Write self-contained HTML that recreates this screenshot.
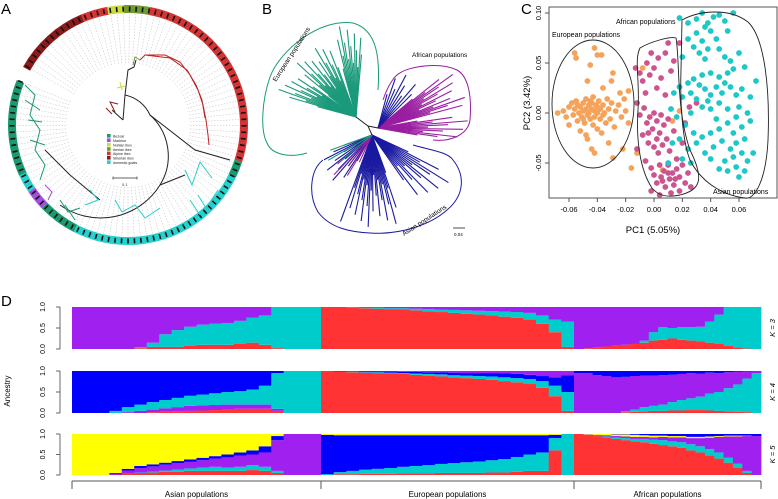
<!DOCTYPE html>
<html><head><meta charset="utf-8"><style>
body{margin:0;background:#fff;font-family:"Liberation Sans",sans-serif}
svg{display:block}
text{font-family:"Liberation Sans",sans-serif}
</style></head><body>
<svg id="fig" width="778" height="499" viewBox="0 0 778 499" xmlns="http://www.w3.org/2000/svg">
<g id="pA"></g>
<g id="pB"></g>
<g id="pC"></g>
<g id="pD"></g>
<text x="1" y="14" font-size="15">A</text>
<text x="262" y="14" font-size="15">B</text>
<text x="521" y="14" font-size="15">C</text>
<text x="1" y="306" font-size="15">D</text>
</svg>
<script>
const NS="http://www.w3.org/2000/svg";
function mk(p,t,a){const e=document.createElementNS(NS,t);for(const k in a)e.setAttribute(k,a[k]);p.appendChild(e);return e;}

/* ===== Panel C data ===== */
const pcXTicks=[-0.06,-0.04,-0.02,0.00,0.02,0.04,0.06];
const pcXTickLabels=["-0.06","-0.04","-0.02","0.00","0.02","0.04","0.06"];
const pcYTicks=[-0.05,0.00,0.05,0.10];
const pcYTickLabels=["-0.05","0.00","0.05","0.10"];
const euroPts=[[-0.068,0.000],[-0.064,0.002],[-0.062,-0.004],[-0.060,0.006],[-0.058,0.010],[-0.057,-0.002],[-0.056,0.004],[-0.055,0.012],[-0.054,-0.008],[-0.053,0.000],[-0.052,0.006],[-0.051,-0.004],[-0.050,0.010],[-0.050,0.002],[-0.049,-0.010],[-0.048,0.014],[-0.048,0.004],[-0.047,-0.002],[-0.046,0.008],[-0.046,0.000],[-0.045,-0.006],[-0.045,0.012],[-0.044,0.004],[-0.043,-0.012],[-0.043,0.016],[-0.042,0.002],[-0.042,-0.004],[-0.041,0.008],[-0.040,0.000],[-0.040,-0.016],[-0.039,0.012],[-0.038,-0.006],[-0.038,0.004],[-0.037,-0.020],[-0.036,0.008],[-0.035,0.000],[-0.034,-0.010],[-0.033,0.014],[-0.032,0.004],[-0.031,-0.006],[-0.030,0.010],[-0.028,-0.014],[-0.027,0.002],[-0.025,0.008],[-0.023,-0.004],[-0.021,0.014],[-0.020,0.002],[-0.018,-0.010],[-0.056,0.060],[-0.055,0.055],[-0.045,0.048],[-0.042,0.065],[-0.040,0.058],[-0.037,0.058],[-0.047,0.032],[-0.030,0.032],[-0.029,0.040],[-0.036,0.025],[-0.044,-0.036],[-0.042,-0.040],[-0.047,-0.026],[-0.032,-0.030],[-0.029,-0.045],[-0.022,-0.036],[-0.016,-0.055],[-0.012,-0.040],[-0.008,0.045],[0.006,-0.057],[0.018,0.002],[0.013,-0.008],[-0.018,0.022],[-0.024,0.020],[-0.060,-0.012],[-0.052,-0.018],[-0.048,-0.022],[-0.054,0.008],[-0.044,0.010],[-0.036,-0.002],[-0.050,-0.006],[-0.040,0.006]];
const afrPts=[[-0.013,0.045],[-0.010,0.040],[-0.008,0.032],[-0.005,0.050],[-0.003,0.038],[-0.002,0.060],[0.000,0.045],[0.003,0.055],[0.005,0.035],[0.008,0.060],[0.010,0.070],[0.012,0.042],[0.014,0.052],[0.002,0.025],[-0.006,0.020],[0.008,0.018],[-0.012,0.010],[-0.010,-0.002],[-0.007,0.005],[-0.005,-0.010],[-0.003,-0.004],[-0.001,-0.016],[0.000,0.000],[0.002,-0.008],[0.004,-0.020],[0.005,-0.002],[0.007,-0.012],[0.009,-0.026],[0.010,-0.006],[-0.008,-0.022],[-0.004,-0.030],[0.000,-0.034],[0.003,-0.040],[0.006,-0.032],[0.011,-0.038],[0.014,-0.018],[-0.012,-0.036],[-0.006,-0.048],[-0.002,-0.055],[0.000,-0.062],[0.002,-0.070],[0.004,-0.052],[0.005,-0.064],[0.007,-0.058],[0.008,-0.074],[0.010,-0.052],[0.011,-0.066],[0.013,-0.060],[0.014,-0.072],[0.016,-0.056],[0.018,-0.064],[0.020,-0.052],[0.022,-0.070],[0.024,-0.060],[0.026,-0.074],[0.012,-0.080],[0.004,-0.082],[-0.002,-0.078],[0.018,-0.078],[0.016,-0.046],[0.020,-0.030],[0.022,-0.010],[0.025,0.006],[0.018,0.070],[0.030,0.010],[0.006,-0.068],[0.010,-0.060],[0.015,-0.066],[-0.004,-0.020],[0.002,-0.026]];
const asiaPts=[[0.018,0.095],[0.024,0.090],[0.030,0.094],[0.034,0.100],[0.038,0.090],[0.042,0.096],[0.046,0.098],[0.050,0.092],[0.056,0.100],[0.030,0.080],[0.034,0.072],[0.040,0.082],[0.044,0.074],[0.038,0.064],[0.028,0.066],[0.024,0.074],[0.020,0.056],[0.032,0.060],[0.036,0.054],[0.046,0.064],[0.050,0.056],[0.054,0.052],[0.060,0.060],[0.064,0.046],[0.056,0.044],[0.052,0.040],[0.046,0.036],[0.040,0.040],[0.034,0.038],[0.028,0.034],[0.024,0.030],[0.018,0.026],[0.014,0.020],[0.020,0.016],[0.026,0.020],[0.030,0.014],[0.036,0.024],[0.040,0.018],[0.044,0.026],[0.048,0.020],[0.054,0.026],[0.058,0.018],[0.062,0.024],[0.068,0.016],[0.072,0.032],[0.034,0.006],[0.040,0.004],[0.046,0.010],[0.052,0.004],[0.060,0.006],[0.066,0.000],[0.026,0.000],[0.016,-0.004],[0.012,0.004],[0.022,-0.012],[0.028,-0.020],[0.034,-0.024],[0.040,-0.020],[0.046,-0.016],[0.052,-0.010],[0.056,-0.020],[0.062,-0.014],[0.068,-0.008],[0.018,-0.026],[0.024,-0.036],[0.030,-0.030],[0.036,-0.040],[0.042,-0.034],[0.048,-0.028],[0.054,-0.036],[0.058,-0.030],[0.064,-0.026],[0.020,-0.046],[0.026,-0.050],[0.040,-0.046],[0.050,-0.048],[0.056,-0.044],[0.062,-0.040],[0.046,-0.056],[0.052,-0.058],[0.058,-0.054],[0.064,-0.058],[0.060,-0.064],[0.066,-0.048],[0.070,-0.040],[0.010,-0.050],[0.013,-0.030],[0.032,0.028],[0.038,0.012],[0.050,0.030],[0.044,-0.006],[0.058,-0.004],[0.036,0.086],[0.052,0.082]];

/* ===== Panel D data (per-sample ancestry, stacked bottom->top, last component = remainder) ===== */
const groupNames=["Asian populations","European populations","African populations"];
const kLabels=["K = 3","K = 4","K = 5"];
const admTickLabels=["0.0","0.5","1.0"];
// K=3
const k3AsiaRed=[0,0,0,0,0,0.02,0.05,0.05,0.05,0.08,0.1,0.1,0.1,0.12,0.15,0.1,0.02,0,0,0];
const k3AsiaCyan=[0,0,0,0,0,0.02,0.1,0.3,0.4,0.45,0.48,0.5,0.52,0.55,0.6,0.7,0.98,1,1,1];
const k3EuroRed=[1,1,0.98,0.97,0.96,0.95,0.94,0.92,0.9,0.88,0.86,0.84,0.82,0.8,0.77,0.74,0.7,0.6,0.4,0.05];
const k3EuroCyan=[0,0,0.01,0.01,0.02,0.02,0.03,0.04,0.05,0.06,0.07,0.08,0.09,0.1,0.12,0.14,0.16,0.2,0.3,0.6];
const k3AfrRed=[0,0.02,0.04,0.06,0.08,0.1,0.12,0.15,0.2,0.22,0.25,0.22,0.2,0.18,0.15,0.12,0.08,0.04,0.01,0];
const k3AfrCyan=[0,0,0,0,0,0,0,0.05,0.2,0.3,0.25,0.3,0.32,0.35,0.5,0.7,0.92,0.96,0.99,1];
// K=4
const k4AsiaRed=[0,0,0,0,0,0,0.02,0.03,0.04,0.05,0.06,0.07,0.08,0.1,0.1,0.1,0.05,0,0,0];
const k4AsiaPurple=[0,0,0,0,0.02,0.05,0.06,0.08,0.1,0.12,0.12,0.12,0.12,0.1,0.1,0.1,0.05,0,0,0];
const k4AsiaCyan=[0,0,0,0.05,0.12,0.15,0.18,0.2,0.22,0.24,0.26,0.28,0.3,0.32,0.36,0.45,0.85,1,1,1];
const k4EuroRed=[1,0.99,0.97,0.96,0.95,0.94,0.93,0.91,0.89,0.87,0.85,0.83,0.81,0.79,0.76,0.73,0.69,0.6,0.4,0.05];
const k4EuroCyan=[0,0,0.01,0.01,0.02,0.02,0.02,0.03,0.04,0.05,0.05,0.06,0.07,0.08,0.09,0.1,0.12,0.16,0.25,0.45];
const k4EuroBlue=[0,0.01,0.01,0.02,0.02,0.03,0.03,0.04,0.04,0.05,0.06,0.06,0.07,0.08,0.09,0.1,0.1,0.12,0.2,0.4];
const k4AfrRed=[0,0,0,0,0,0.02,0.03,0.04,0.05,0.05,0.06,0.06,0.07,0.07,0.06,0.05,0.04,0.03,0.02,0];
const k4AfrCyan=[0,0,0,0,0,0.02,0.05,0.1,0.12,0.15,0.2,0.25,0.28,0.32,0.4,0.45,0.55,0.65,0.8,0.95];
const k4AfrPurple=[0.95,0.95,0.9,0.88,0.85,0.82,0.8,0.75,0.72,0.7,0.65,0.62,0.6,0.55,0.5,0.45,0.38,0.3,0.17,0.05];
// K=5
const k5AsiaRed=[0,0,0,0,0.03,0.05,0.06,0.08,0.08,0.1,0.1,0.1,0.1,0.1,0.12,0.1,0.05,0,0,0];
const k5AsiaCyan=[0,0,0,0,0,0.01,0.02,0.03,0.05,0.06,0.08,0.1,0.08,0.1,0.12,0.1,0.05,0,0,0];
const k5AsiaPurple=[0,0,0,0.03,0.08,0.11,0.13,0.14,0.16,0.16,0.18,0.2,0.25,0.27,0.26,0.35,0.75,1,1,1];
const k5AsiaBlue=[0,0,0,0.02,0.04,0.05,0.05,0.05,0.05,0.06,0.06,0.06,0.07,0.08,0.1,0.15,0.1,0,0,0];
const k5EuroRed=[0,0.02,0.02,0.03,0.03,0.03,0.04,0.04,0.04,0.05,0.05,0.05,0.05,0.06,0.06,0.08,0.1,0.1,0.6,0];
const k5EuroCyan=[0.02,0.05,0.08,0.1,0.12,0.14,0.16,0.18,0.2,0.22,0.24,0.26,0.28,0.3,0.33,0.36,0.4,0.45,0.3,1];
const k5EuroBlue=[0.96,0.9,0.87,0.84,0.82,0.8,0.77,0.75,0.73,0.7,0.68,0.66,0.64,0.61,0.58,0.53,0.47,0.42,0.08,0];
const k5AfrRed=[1,0.98,0.95,0.92,0.88,0.85,0.82,0.8,0.76,0.73,0.7,0.66,0.6,0.55,0.48,0.4,0.3,0.18,0.05,0];
const k5AfrCyan=[0,0,0.01,0.02,0.03,0.05,0.06,0.08,0.1,0.12,0.12,0.14,0.15,0.15,0.15,0.15,0.12,0.1,0.05,0];
const k5AfrPurple=[0,0.01,0.02,0.03,0.04,0.04,0.05,0.05,0.06,0.08,0.1,0.12,0.15,0.2,0.28,0.38,0.52,0.66,0.85,0.95];
const k5AfrYellow=[0,0.01,0.02,0.03,0.04,0.05,0.05,0.04,0.04,0.03,0.03,0.03,0.03,0.03,0.03,0.02,0.02,0.02,0.01,0];

/* ===== Panel A: circular tree ===== */
(function(){
const g=document.getElementById('pA');const cx=128,cy=125,R1=112,R2=120;
const P=(r,a)=>[cx+r*Math.cos(a*Math.PI/180),cy+r*Math.sin(a*Math.PI/180)];
function arcBand(a0,a1,col,name){const[x1,y1]=P(R2,a0),[x2,y2]=P(R2,a1),[x3,y3]=P(R1,a1),[x4,y4]=P(R1,a0);const lg=(a1-a0)>180?1:0;
const e=mk(g,'path',{d:`M${x1},${y1}A${R2},${R2} 0 ${lg} 1 ${x2},${y2}L${x3},${y3}A${R1},${R1} 0 ${lg} 0 ${x4},${y4}Z`,fill:col});
}
for(let a=-150;a<=202;a+=3.2){const[x1,y1]=P(62,a),[x2,y2]=P(111,a);mk(g,'line',{x1,y1,x2,y2,stroke:'#bbb','stroke-width':0.5,'stroke-dasharray':'1.5,1.5'});}
arcBand(209,247,'#8b1a1a','ring-siberian-ibex');arcBand(247,260,'#d33434','ring-alpine-ibex-a');
arcBand(260,268,'#c9db3c','ring-nubian-ibex');arcBand(268,280.5,'#6e9a2e','ring-iberian-ibex');
arcBand(280.5,378,'#d33434','ring-alpine-ibex');arcBand(18,26,'#1a9a6e','ring-bezoar-a');
arcBand(26,117,'#26d0cc','ring-domestic-goats');arcBand(117,136,'#1a9a6e','ring-bezoar-b');
arcBand(136,146,'#a24fe0','ring-markhor');arcBand(146,155,'#26d0cc','ring-domestic-goats-b');
arcBand(155,202,'#1a9a6e','ring-bezoar-c');
for(let a=-150;a<=202;a+=3.2){const[x1,y1]=P(113.5,a),[x2,y2]=P(118.5,a);mk(g,'line',{x1,y1,x2,y2,stroke:'#111','stroke-width':1.6});}
const bk=['M123,120 L125,95 L128,70 L134,67 L136,60',
'M125,95 A35,35 0 0 1 150,115 L195,150 L230,160',
'M123,120 L112,110',
'M150,115 A55,55 0 0 1 160,185 A70,70 0 0 1 60,205',
'M160,185 L185,175',
'M100,200 L70,175 L45,150'];
bk.forEach(d=>mk(g,'path',{d,fill:'none',stroke:'#222','stroke-width':1}));
const cl=[['M140,60 L145,55 L165,55 L180,62 L190,75 L198,90 L203,105 L206,120 L208,135 L209,145','#c02222'],['M145,55 L170,58 L187,70 L196,85 L202,100 L205,118','#c02222'],
['M122,90 L120,82 M117,88 L125,86','#c9db3c'],['M133,65 L135,57 L140,60','#6e9a2e'],['M115,112 L110,102 L118,104 M112,114 L106,108','#8b1a1a'],
['M25,85 L35,95 L30,115 L40,130 L35,150 L45,165 L40,180 M25,100 L40,110 M30,140 L45,145 M28,120 L42,122','#1a9a6e'],['M60,200 L68,212 L80,208 M65,205 L75,220','#1a9a6e'],
['M45,185 L52,192 L48,200','#a24fe0'],['M185,170 L192,185 L200,162 L212,178 M198,195 L206,208 L218,190 M190,200 L200,215','#26d0cc'],['M115,200 L122,212 L135,205 L145,218 L160,208','#26d0cc'],
['M90,190 L98,200 L85,205','#26d0cc']];
cl.forEach(([d,c])=>mk(g,'path',{d,fill:'none',stroke:c,'stroke-width':1}));
const lgN=["Bezoar","Markhor","Nubian ibex","Iberian ibex","Alpine ibex","Siberian ibex","domestic goats"];
const lgC=['#1a9a6e','#a24fe0','#c9db3c','#6e9a2e','#d33434','#8b1a1a','#26d0cc'];
lgN.forEach((n,i)=>{const r=mk(g,'rect',{x:107,y:134+i*4.4,width:3.6,height:3.6,fill:lgC[i]});
const t=mk(g,'text',{x:113,y:137.6+i*4.4,'font-size':3.6,fill:'#222'});t.textContent=n;});
mk(g,'path',{d:'M113,178 L137,178 M113,176.5 L113,179.5 M137,176.5 L137,179.5',stroke:'#333','stroke-width':0.7});
const st=mk(g,'text',{x:122,y:186,'font-size':4,fill:'#333'});st.textContent='0.1';
})();

/* ===== Panel B ===== */
(function(){
const g=document.getElementById('pB');
function fan(ox,oy,a0,a1,n,lmin,lmax,col,name){for(let i=0;i<n;i++){const t=i/(n-1);const a=(a0+(a1-a0)*t)*Math.PI/180;const L=lmin+(lmax-lmin)*((i*7)%11)/10;
const l=mk(g,'line',{x1:ox,y1:oy,x2:ox+L*Math.cos(a),y2:oy+L*Math.sin(a),stroke:col,'stroke-width':1.1});}}
fan(356,117,195,215,14,40,82,'#1a9a7a','european-branch');fan(356,117,218,250,22,35,80,'#1a9a7a','european-branch');fan(356,117,255,275,14,50,92,'#1a9a7a','european-branch');
fan(378,128,-40,-15,18,45,92,'#9a1ea0','african-branch');fan(378,128,-10,10,12,40,90,'#9a1ea0','african-branch');fan(378,128,-75,-45,8,35,60,'#1a1aa0','african-blue-branch');
fan(372,135,70,110,26,40,92,'#1a1aa0','asian-branch');fan(372,135,25,55,14,40,90,'#1a1aa0','asian-branch');fan(372,135,120,160,12,30,60,'#1a1aa0','asian-branch');
fan(372,135,115,140,5,30,55,'#9a1ea0','asian-purple-branch');fan(372,135,140,160,3,40,55,'#1a9a7a','asian-green-branch');
mk(g,'path',{d:'M356,117 L368,126 L378,128 M368,126 L372,135',stroke:'#222','stroke-width':1,fill:'none'});
const loops=[['M378,90 C380,60 378,30 353,23 C320,18 280,50 270,77 C262,100 260,130 267,143 C272,155 290,158 307,153','#1a9a7a','european-outline'],
['M383,100 C388,85 395,75 400,73 C410,66 440,62 457,70 C468,76 472,95 470,120 C468,135 450,142 433,140','#9a1ea0','african-outline'],
['M413,145 C430,150 448,152 453,160 C465,175 465,195 447,210 C430,225 400,235 370,233 C350,232 330,228 318,212 C308,195 310,170 323,160','#1a1aa0','asian-outline']];
loops.forEach(([d,c,n])=>{const p=mk(g,'path',{d,fill:'none',stroke:c,'stroke-width':1});});
let t=mk(g,'text',{x:0,y:0,'font-size':6.5,transform:'translate(276,82) rotate(-57)'});t.textContent='European populations';
t=mk(g,'text',{x:412,y:57,'font-size':6.5});t.textContent='African populations';
t=mk(g,'text',{x:0,y:0,'font-size':6.5,transform:'translate(404,236) rotate(-33)'});t.textContent='Asian populations';
mk(g,'line',{x1:453,y1:228,x2:465,y2:228,stroke:'#222','stroke-width':0.8});
t=mk(g,'text',{x:454,y:236,'font-size':4.5});t.textContent='0.04';
})();

/* ===== Panel C ===== */
(function(){
const g=document.getElementById('pC');
const L=549,Rr=777,T=7,B=198;
const xS=v=>654+v/0.02*28.33, yS=v=>113-v/0.05*50;
const fr=mk(g,'rect',{x:L,y:T,width:Rr-L,height:B-T,fill:'none',stroke:'#555','stroke-width':1});
pcXTicks.forEach((v,i)=>{mk(g,'line',{x1:xS(v),y1:B,x2:xS(v),y2:B+4,stroke:'#555'});const t=mk(g,'text',{x:xS(v),y:B+14,'font-size':7.5,'text-anchor':'middle'});t.textContent=pcXTickLabels[i];});
pcYTicks.forEach((v,i)=>{mk(g,'line',{x1:L-4,y1:yS(v),x2:L,y2:yS(v),stroke:'#555'});const t=mk(g,'text',{x:0,y:0,'font-size':7.5,'text-anchor':'middle',transform:`translate(541,${yS(v)}) rotate(-90)`});t.textContent=pcYTickLabels[i];});
let t=mk(g,'text',{x:653,y:233,'font-size':9.5,'text-anchor':'middle'});t.textContent='PC1 (5.05%)';
t=mk(g,'text',{x:0,y:0,'font-size':9.5,'text-anchor':'middle',transform:'translate(530,103) rotate(-90)'});t.textContent='PC2 (3.42%)';
function pts(arr,col,name){arr.forEach(p=>{const c=mk(g,'circle',{cx:xS(p[0]),cy:yS(p[1]),r:2.9,fill:col});});}
pts(euroPts,'#f5a35a','european-point');pts(afrPts,'#cc5590','african-point');pts(asiaPts,'#1ec8c8','asian-point');
const e=mk(g,'ellipse',{cx:593,cy:104,rx:41,ry:64,fill:'none',stroke:'#222','stroke-width':0.9});
let p=mk(g,'path',{d:'M640,48 C650,42 670,36 676,38 C680,60 676,110 690,150 C705,180 700,190 680,195 C665,198 658,195 652,188 C640,170 636,140 638,110 C640,80 634,60 640,48 Z',fill:'none',stroke:'#222','stroke-width':0.9});
p=mk(g,'path',{d:'M682,20 C700,10 730,8 748,22 C765,38 770,90 768,140 C766,180 755,200 745,198 C720,195 700,180 690,160 C682,140 680,100 681,70 Z',fill:'none',stroke:'#222','stroke-width':0.9});
t=mk(g,'text',{x:552,y:37,'font-size':7});t.textContent='European populations';
t=mk(g,'text',{x:616,y:24,'font-size':7});t.textContent='African populations';
t=mk(g,'text',{x:713,y:194,'font-size':7});t.textContent='Asian populations';
})();

/* ===== Panel D ===== */
(function(){
const g=document.getElementById('pD');
const R='#ff3333',C='#00cccc',P='#a020f0',Bl='#0000ff',Y='#ffff00';
const groupX=[[72,321],[321,574],[574,761]];
const rows=[{top:307,bot:349,groups:[[[k3AsiaRed,k3AsiaCyan],[R,C,P]],[[k3EuroRed,k3EuroCyan],[R,C,P]],[[k3AfrRed,k3AfrCyan],[R,C,P]]]},
{top:371,bot:413,groups:[[[k4AsiaRed,k4AsiaPurple,k4AsiaCyan],[R,P,C,Bl]],[[k4EuroRed,k4EuroCyan,k4EuroBlue],[R,C,Bl,P]],[[k4AfrRed,k4AfrCyan,k4AfrPurple],[R,C,P,Bl]]]},
{top:434,bot:475,groups:[[[k5AsiaRed,k5AsiaCyan,k5AsiaPurple,k5AsiaBlue],[R,C,P,Bl,Y]],[[k5EuroRed,k5EuroCyan,k5EuroBlue],[R,C,Bl,Y]],[[k5AfrRed,k5AfrCyan,k5AfrPurple,k5AfrYellow],[R,C,P,Y,Bl]]]}];
rows.forEach((row,ri)=>{const H=row.bot-row.top;const yS=v=>row.bot-v*H;
row.groups.forEach((gr,gi)=>{const [arrs,cols]=gr;const n=arrs[0].length;const x0=groupX[gi][0],x1=groupX[gi][1];const w=(x1-x0)/n;
for(let i=0;i<n;i++){let acc=0;const bx=x0+i*w;
arrs.forEach((a,k)=>{const v=Math.min(a[i],1-acc);if(v>0){const r=mk(g,'rect',{x:bx,y:yS(acc+v),width:w+0.4,height:v*H,fill:cols[k]});}acc+=Math.max(v,0);});
if(acc<1){const r=mk(g,'rect',{x:bx,y:row.top,width:w+0.4,height:(1-acc)*H,fill:cols[cols.length-1]});}}
});
mk(g,'line',{x1:60,y1:row.top,x2:60,y2:row.bot,stroke:'#444','stroke-width':0.8});
admTickLabels.forEach((lb,i)=>{const v=i*0.5;mk(g,'line',{x1:56,y1:yS(v),x2:60,y2:yS(v),stroke:'#444','stroke-width':0.8});
const t=mk(g,'text',{x:0,y:0,'font-size':7,'text-anchor':'middle',transform:`translate(45,${yS(v)}) rotate(-90)`});t.textContent=lb;});
const t=mk(g,'text',{x:0,y:0,'font-size':7.5,'text-anchor':'middle','font-style':'italic',transform:`translate(775,${(row.top+row.bot)/2}) rotate(-90)`});t.textContent=kLabels[ri];
});
let t=mk(g,'text',{x:0,y:0,'font-size':8,'text-anchor':'middle',transform:'translate(10,391) rotate(-90)'});t.textContent='Ancestry';
mk(g,'line',{x1:72,y1:481,x2:761,y2:481,stroke:'#777','stroke-width':1.2});
[72,321,574,761].forEach(x=>mk(g,'line',{x1:x,y1:481,x2:x,y2:489,stroke:'#555','stroke-width':1}));
groupNames.forEach((n,i)=>{const t=mk(g,'text',{x:(groupX[i][0]+groupX[i][1])/2,y:497,'font-size':8,'text-anchor':'middle'});t.textContent=n;});
})();
</script>
</body></html>
